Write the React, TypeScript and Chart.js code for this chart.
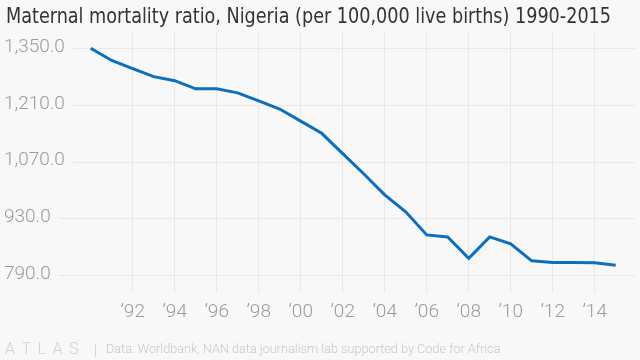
import React, { useEffect, useRef } from 'react';
import { Chart, registerables } from 'chart.js';

Chart.register(...registerables);

const years = [1990, 1991, 1992, 1993, 1994, 1995, 1996, 1997, 1998, 1999, 2000, 2001, 2002, 2003, 2004, 2005, 2006, 2007, 2008, 2009, 2010, 2011, 2012, 2013, 2014, 2015];
const mmr = [1350, 1320, 1300, 1280, 1270, 1250, 1250, 1240, 1220, 1200, 1170, 1140, 1090, 1040, 988, 946, 889, 884, 831, 884, 867, 825, 821, 821, 820, 814];
const xTickValues = [1992, 1994, 1996, 1998, 2000, 2002, 2004, 2006, 2008, 2010, 2012, 2014];
const yTickValues = [790, 930, 1070, 1210, 1350];
const titleText = 'Maternal mortality ratio, Nigeria (per 100,000 live births) 1990-2015';
const sourceText = 'Data: Worldbank, NAN data journalism lab supported by Code for Africa';
const brandText = 'ATLAS';

const BG = '#f8f8f8';
const GRID = '#e8e8e8';
const TICK = '#9b9b9b';
const LINE = '#0b6fc1';
const TICK_FONT = '300 19px Roboto, "Noto Sans", sans-serif';

const decorPlugin = {
  id: 'decor',
  beforeDraw(chart: any) {
    const ctx = chart.ctx;
    ctx.save();
    ctx.fillStyle = BG;
    ctx.fillRect(0, 0, chart.width, chart.height);
    ctx.restore();
  },
  beforeDatasetsDraw(chart: any) {
    const ctx = chart.ctx;
    const y = chart.scales.y;
    const area = chart.chartArea;
    ctx.save();
    ctx.font = TICK_FONT;
    ctx.textBaseline = 'middle';
    ctx.textAlign = 'left';
    for (const v of yTickValues) {
      const py = y.getPixelForValue(v);
      const label = v.toLocaleString('en-US', { minimumFractionDigits: 1, maximumFractionDigits: 1 });
      const w = ctx.measureText(label).width;
      ctx.fillStyle = TICK;
      ctx.fillText(label, 4, py - 1);
      ctx.strokeStyle = GRID;
      ctx.lineWidth = 1;
      ctx.beginPath();
      ctx.moveTo(4 + w + 8, Math.round(py) + 0.5);
      ctx.lineTo(area.right, Math.round(py) + 0.5);
      ctx.stroke();
    }
    ctx.restore();
  },
  afterDraw(chart: any) {
    const ctx = chart.ctx;
    ctx.save();
    // title
    ctx.fillStyle = '#333333';
    ctx.font = '400 22px "Liberation Sans Narrow", "DejaVu Sans Condensed", Roboto, sans-serif';
    ctx.textBaseline = 'alphabetic';
    ctx.textAlign = 'left';
    ctx.fillText(titleText, 6, 23, 605);
    // brand
    ctx.fillStyle = '#d0d0d0';
    ctx.font = '300 16px Roboto, sans-serif';
    let bx = 5;
    for (const ch of brandText) {
      ctx.fillText(ch, bx, 354);
      bx += ctx.measureText(ch).width + 6.5;
    }
    ctx.strokeStyle = '#d6d6d6';
    ctx.lineWidth = 1;
    ctx.beginPath();
    ctx.moveTo(95.5, 344);
    ctx.lineTo(95.5, 357);
    ctx.stroke();
    ctx.fillStyle = '#c8c8c8';
    ctx.font = '300 12.7px Roboto, sans-serif';
    ctx.fillText(sourceText, 106, 352.5, 396);
    ctx.restore();
  },
};

export default function App() {
  const ref = useRef<HTMLCanvasElement | null>(null);
  useEffect(() => {
    if (!ref.current) return;
    const chart = new Chart(ref.current, {
      type: 'line',
      data: {
        datasets: [
          {
            label: 'Maternal mortality ratio',
            data: years.map((yr, i) => ({ x: yr, y: mmr[i] })),
            borderColor: LINE,
            borderWidth: 3,
            pointRadius: 0,
            tension: 0,
            fill: false,
          },
        ],
      },
      options: {
        responsive: false,
        animation: false,
        devicePixelRatio: 1,
        layout: { padding: { left: 0, right: 5, top: 32, bottom: 0 } },
        plugins: { legend: { display: false }, tooltip: { enabled: false }, title: { display: false } },
        scales: {
          x: {
            type: 'linear',
            min: 1985.681,
            max: 2015.919,
            afterBuildTicks: (s: any) => {
              s.ticks = xTickValues.map((v) => ({ value: v }));
            },
            afterFit: (s: any) => {
              s.height = 67;
            },
            grid: { color: GRID, drawTicks: false, lineWidth: 1 },
            border: { display: false },
            ticks: {
              color: TICK,
              font: { family: 'Roboto, "Noto Sans", sans-serif', size: 19, weight: '300' as any },
              padding: 8,
              maxRotation: 0,
              autoSkip: false,
              callback: (v: any) => '\u2019' + String(v).slice(2),
            },
          },
          y: {
            type: 'linear',
            display: false,
            min: 745.5,
            max: 1390.3,
          },
        },
      },
      plugins: [decorPlugin],
    });
    return () => chart.destroy();
  }, []);
  return (
    <div style={{ position: 'fixed', left: 0, top: 0, width: 640, height: 360, background: BG }}>
      <canvas ref={ref} width={640} height={360} style={{ display: 'block', width: 640, height: 360 }} />
    </div>
  );
}
